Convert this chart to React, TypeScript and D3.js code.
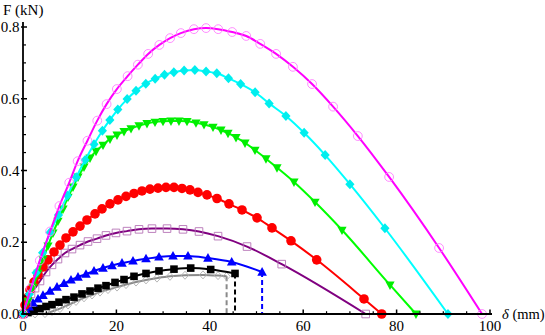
import React from "react";
import * as d3 from "d3";

const width = 545;
const height = 335;

// displacement (mm) / force (kN), one pair of arrays per curve
const magentaX = [0, 1.7, 3.6, 5.8, 7.8, 9.9, 11.7, 13.8, 15.9, 17.9, 20.1, 22.4, 24.6, 26.8, 29.2, 31.5, 33.8, 36.6, 39.2, 41.8, 44.8, 47.8, 50.8, 54.2, 57.8, 61.9, 66.4, 71.7, 78.4, 89.1, 98.3];
const magentaF = [0, 0.072, 0.149, 0.23, 0.301, 0.366, 0.426, 0.483, 0.539, 0.585, 0.627, 0.663, 0.695, 0.725, 0.75, 0.769, 0.783, 0.794, 0.797, 0.794, 0.786, 0.775, 0.753, 0.725, 0.689, 0.641, 0.578, 0.496, 0.382, 0.184, 0];

const cyanX = [0, 1.35, 2.8, 4.2, 5.8, 7.6, 9.5, 11.4, 13.3, 15.2, 17.0, 18.6, 20.3, 22.3, 24.2, 26.3, 28.3, 30.3, 32.3, 34.5, 36.8, 39.2, 41.5, 44.0, 46.6, 49.7, 52.7, 56.3, 60.2, 64.7, 70.0, 77.5, 91.0];
const cyanF = [0, 0.055, 0.115, 0.171, 0.227, 0.276, 0.33, 0.381, 0.429, 0.473, 0.511, 0.541, 0.57, 0.599, 0.622, 0.642, 0.656, 0.667, 0.674, 0.679, 0.68, 0.676, 0.671, 0.657, 0.641, 0.618, 0.587, 0.552, 0.505, 0.443, 0.362, 0.239, 0];

const greenX = [0, 1.07, 2.14, 3.21, 4.28, 5.35, 6.42, 7.49, 8.57, 9.64, 10.71, 11.78, 13.06, 14.35, 15.63, 17.13, 18.63, 20.13, 21.63, 23.13, 24.84, 26.55, 28.27, 29.98, 31.69, 33.4, 35.12, 37.04, 38.76, 40.69, 42.4, 43.9, 45.61, 47.54, 49.68, 52.03, 54.39, 58.03, 62.53, 68.31, 78.59, 84.15];
const greenF = [0, 0.036, 0.075, 0.114, 0.153, 0.19, 0.226, 0.259, 0.293, 0.326, 0.354, 0.382, 0.41, 0.435, 0.454, 0.471, 0.488, 0.499, 0.509, 0.517, 0.525, 0.531, 0.535, 0.537, 0.538, 0.538, 0.537, 0.533, 0.528, 0.521, 0.513, 0.504, 0.492, 0.477, 0.457, 0.433, 0.408, 0.368, 0.312, 0.234, 0.081, 0];

const redX = [0, 0.43, 0.86, 1.5, 2.36, 3.21, 4.28, 5.35, 6.64, 7.92, 9.21, 10.71, 12.21, 13.7, 15.42, 16.92, 18.63, 20.34, 22.06, 23.77, 25.48, 27.19, 28.91, 30.62, 32.33, 34.05, 35.76, 37.47, 39.4, 41.54, 44.11, 46.9, 50.11, 53.32, 57.39, 62.89, 73.02, 76.81];
const redF = [0, 0.025, 0.045, 0.067, 0.089, 0.109, 0.131, 0.151, 0.173, 0.192, 0.212, 0.229, 0.245, 0.262, 0.279, 0.293, 0.307, 0.318, 0.328, 0.336, 0.343, 0.348, 0.351, 0.353, 0.353, 0.35, 0.346, 0.339, 0.332, 0.322, 0.307, 0.29, 0.268, 0.24, 0.204, 0.151, 0.042, 0];

const purpleX = [0, 0.86, 1.71, 2.57, 3.64, 4.93, 6.21, 7.49, 8.99, 10.49, 12.21, 13.92, 15.85, 17.77, 19.91, 22.27, 24.84, 27.62, 30.84, 34.26, 37.69, 41.76, 47.97, 55.4, 73.38];
const purpleF = [0, 0.031, 0.056, 0.072, 0.092, 0.117, 0.137, 0.153, 0.17, 0.181, 0.192, 0.202, 0.21, 0.219, 0.226, 0.231, 0.236, 0.238, 0.238, 0.236, 0.23, 0.217, 0.188, 0.139, 0];

const blueX = [0, 0.64, 1.28, 2.14, 3.21, 4.28, 5.78, 7.28, 8.78, 10.28, 11.78, 13.49, 15.2, 17.13, 19.06, 21.2, 23.55, 26.34, 29.12, 32.12, 35.33, 39.61, 44.69, 51.2];
const blueF = [0, 0.011, 0.02, 0.031, 0.042, 0.052, 0.064, 0.075, 0.085, 0.095, 0.103, 0.111, 0.12, 0.128, 0.135, 0.142, 0.148, 0.154, 0.159, 0.162, 0.162, 0.156, 0.145, 0.117];

const blackX = [0, 1.07, 2.36, 3.64, 4.93, 6.21, 7.71, 9.21, 10.92, 12.63, 14.35, 16.06, 17.77, 19.7, 21.63, 23.77, 26.34, 29.12, 32.33, 35.91, 40.19, 45.4];
const blackF = [0, 0.004, 0.01, 0.015, 0.021, 0.026, 0.033, 0.04, 0.047, 0.056, 0.064, 0.072, 0.079, 0.088, 0.096, 0.105, 0.113, 0.12, 0.125, 0.128, 0.124, 0.113];

const grayX = [0, 2.57, 4.71, 6.21, 7.92, 9.64, 11.35, 13.06, 14.78, 16.49, 18.2, 20.13, 22.06, 24.2, 26.34, 28.69, 31.48, 34.69, 38.54, 41.76, 43.6];
const grayF = [0, 0, 0.001, 0.007, 0.015, 0.025, 0.035, 0.045, 0.053, 0.061, 0.068, 0.075, 0.082, 0.089, 0.095, 0.1, 0.105, 0.108, 0.109, 0.107, 0.105];

const xTicks = [0, 20, 40, 60, 80, 100];
const yTicks = [0, 0.2, 0.4, 0.6, 0.8];
const yTickLabels = ["0.0", "0.2", "0.4", "0.6", "0.8"];

const series = [
  { xs: grayX, fs: grayF, color: "#8a8a8a", mark: "diamondOpen", markColor: "#b0b0b0", drop: true },
  { xs: blackX, fs: blackF, color: "#000000", mark: "square", markColor: "#000000", drop: true },
  { xs: blueX, fs: blueF, color: "#0000ff", mark: "triUp", markColor: "#0000ff", drop: true },
  { xs: purpleX, fs: purpleF, color: "#800080", mark: "squareOpen", markColor: "#b573b5", drop: false },
  { xs: redX, fs: redF, color: "#ff0000", mark: "circle", markColor: "#ff0000", drop: false },
  { xs: greenX, fs: greenF, color: "#00ff00", mark: "triDown", markColor: "#00ee00", drop: false },
  { xs: cyanX, fs: cyanF, color: "#00ffff", mark: "diamond", markColor: "#00eeee", drop: false },
  { xs: magentaX, fs: magentaF, color: "#ff00ff", mark: "circleOpen", markColor: "#ff7fff", drop: false },
];

const markPath = (m) => {
  switch (m) {
    case "diamond":
      return "M0,-5L4.6,0L0,5L-4.6,0Z";
    case "diamondOpen":
      return "M0,-4L3.6,0L0,4L-3.6,0Z";
    case "triUp":
      return "M0,-5L4.8,3.6L-4.8,3.6Z";
    case "triDown":
      return "M0,5L4.6,-3.4L-4.6,-3.4Z";
    case "square":
      return "M-3.8,-3.8H3.8V3.8H-3.8Z";
    case "squareOpen":
      return "M-3.8,-3.8H3.8V3.8H-3.8Z";
    default:
      return null;
  }
};

const App = () => {
  const x = d3.scaleLinear().domain([0, 100]).range([23, 490]);
  const y = d3.scaleLinear().domain([0, 0.8]).range([314, 27]);

  const line = d3
    .line<number>()
    .curve(d3.curveMonotoneX);

  const font = "'Liberation Serif', 'Times New Roman', serif";

  const minorX = d3.range(0, 101, 5).filter((v) => v % 20 !== 0);
  const minorY = d3.range(0, 0.81, 0.05).filter((v) => Math.abs(v * 5 - Math.round(v * 5)) > 1e-6);

  return (
    <svg
      width={width}
      height={height}
      viewBox={`0 0 ${width} ${height}`}
      style={{ position: "absolute", left: 0, top: 0, background: "#fff" }}
    >
      {series.map((s, i) => {
        const pts = s.xs.map((v, j) => [x(v), y(s.fs[j])]);
        const last = pts[pts.length - 1];
        return (
          <g key={i}>
            <path
              d={line.x((d) => d[0]).y((d) => d[1])(pts)}
              fill="none"
              stroke={s.color}
              strokeWidth={2}
            />
            {s.drop && (
              <line
                x1={last[0]}
                x2={last[0]}
                y1={last[1]}
                y2={y(0)}
                stroke={s.color}
                strokeWidth={2}
                strokeDasharray="5,3"
              />
            )}
            {pts.map((p, j) => {
              const t = `translate(${p[0]},${p[1]})`;
              if (s.mark === "circle")
                return <circle key={j} cx={p[0]} cy={p[1]} r={4.8} fill={s.markColor} />;
              if (s.mark === "circleOpen")
                return (
                  <circle key={j} cx={p[0]} cy={p[1]} r={4.4} fill="none" stroke={s.markColor} strokeWidth={0.9} />
                );
              const open = s.mark.endsWith("Open");
              return (
                <path
                  key={j}
                  transform={t}
                  d={markPath(s.mark)}
                  fill={open ? "none" : s.markColor}
                  stroke={open ? s.markColor : "none"}
                  strokeWidth={open ? 0.9 : 0}
                />
              );
            })}
          </g>
        );
      })}

      {/* axes */}
      <line x1={23} x2={492} y1={y(0)} y2={y(0)} stroke="#000" strokeWidth={1.8} />
      <line x1={23} x2={23} y1={y(0)} y2={22} stroke="#000" strokeWidth={1.8} />

      {xTicks.map((t) => (
        <g key={t}>
          <line x1={x(t)} x2={x(t)} y1={y(0) - 4.5} y2={y(0) + 1} stroke="#000" strokeWidth={1.5} />
          <text x={x(t)} y={331} textAnchor="middle" fontFamily={font} fontSize={15}>
            {t}
          </text>
        </g>
      ))}
      {minorX.map((t) => (
        <line key={t} x1={x(t)} x2={x(t)} y1={y(0) - 2.8} y2={y(0)} stroke="#000" strokeWidth={1.2} />
      ))}

      {yTicks.map((t, i) => (
        <g key={t}>
          <line x1={21} x2={27} y1={y(t)} y2={y(t)} stroke="#000" strokeWidth={1.5} />
          <text x={19.5} y={y(t) + 5} textAnchor="end" fontFamily={font} fontSize={15}>
            {yTickLabels[i]}
          </text>
        </g>
      ))}
      {minorY.map((t) => (
        <line key={t} x1={23} x2={26} y1={y(t)} y2={y(t)} stroke="#000" strokeWidth={1.2} />
      ))}

      <text x={3} y={15} fontFamily={font} fontSize={15}>
        F (kN)
      </text>
      <text x={502} y={318.5} fontFamily={font} fontSize={14.5}>
        <tspan fontStyle="italic">δ</tspan> (mm)
      </text>
    </svg>
  );
};

export default App;
